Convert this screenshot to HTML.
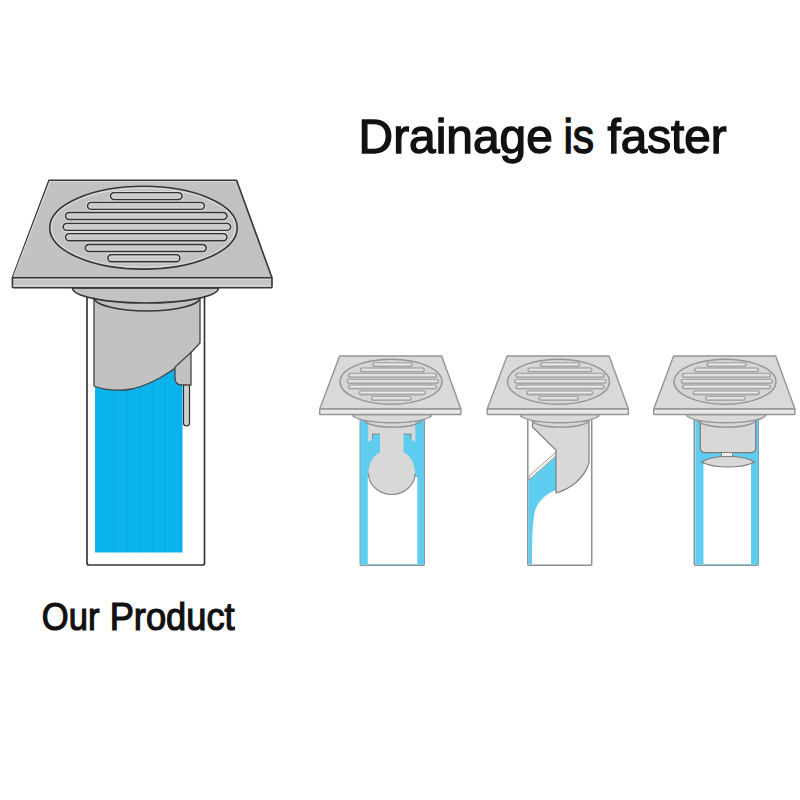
<!DOCTYPE html>
<html><head><meta charset="utf-8">
<style>
html,body{margin:0;padding:0;background:#fff;width:800px;height:800px;overflow:hidden}
svg{display:block}
text{font-family:"Liberation Sans",sans-serif;fill:#111}
</style></head>
<body>
<svg width="800" height="800" viewBox="0 0 800 800">
<text transform="translate(358.57,152.8) scale(0.9768,1)" x="0" y="0" font-size="49" stroke="#111" stroke-width="1.4">Drainage</text>
<text transform="translate(563.39,152.8) scale(0.871,1)" x="0" y="0" font-size="49" stroke="#111" stroke-width="1.4">is</text>
<text transform="translate(607.5,152.8) scale(0.973,1)" x="0" y="0" font-size="49" stroke="#111" stroke-width="1.4">faster</text>
<text transform="translate(41.84,629.5) scale(0.9087,1)" x="0" y="0" font-size="38" stroke="#111" stroke-width="1.2">Our</text>
<text transform="translate(109.63,629.5) scale(0.955,1)" x="0" y="0" font-size="38" stroke="#111" stroke-width="1.2">Product</text>
<g>
<path fill="#fff" stroke="#363636" stroke-width="1.68" d="M87,295 L87,563 Q87,565 89,565 L202.5,565 Q204.5,565 204.5,563 L204.5,296"/>
<rect x="95" y="345" width="87.5" height="207.5" fill="#0ab3ec"/>
<line x1="113.75" y1="345" x2="113.75" y2="552.5" stroke="#0485bd" stroke-opacity="0.22" stroke-width="1.1"/>
<line x1="126.9" y1="345" x2="126.9" y2="552.5" stroke="#0485bd" stroke-opacity="0.22" stroke-width="1.1"/>
<line x1="140" y1="345" x2="140" y2="552.5" stroke="#0485bd" stroke-opacity="0.22" stroke-width="1.1"/>
<line x1="152.5" y1="345" x2="152.5" y2="552.5" stroke="#0485bd" stroke-opacity="0.22" stroke-width="1.1"/>
<line x1="165" y1="345" x2="165" y2="552.5" stroke="#0485bd" stroke-opacity="0.22" stroke-width="1.1"/>
<rect x="183.5" y="370" width="6" height="56" rx="3" fill="#d0d0d0" stroke="#2b2b2b" stroke-width="1.2"/>
<path fill="#c2c2c2" stroke="#474747" stroke-width="1.35" d="M94,297 L94,386 C102,389.5 113,390.5 124,390 C144,389.1 179,370 191,352.5 L200,343 L200,297 Z"/>
<path fill="#c2c2c2" stroke="#474747" stroke-width="1.3" d="M175,367 L175,378 Q175,385 182,385 L191,385 L191,352.5 Z"/>
<path fill="none" stroke="#363636" stroke-width="1.6" d="M94,297.5 A53,13.5 0 0 0 200,297.5"/>
<path fill="#c2c2c2" stroke="#363636" stroke-width="1.6" d="M72.5,288 A73,15 0 0 0 218.5,288 Z"/>
<polygon fill="#c2c2c2" stroke="#363636" stroke-width="1.6" stroke-linejoin="round" points="49,180.3 236.6,180.3 272,277.7 12.4,277.7"/>
<rect fill="#c6c6c6" stroke="#363636" stroke-width="1.6" x="12.4" y="277.7" width="259.6" height="10" rx="1"/>
<ellipse fill="#c2c2c2" stroke="#363636" stroke-width="1.6" cx="143.45" cy="227.7" rx="93.75" ry="41.4"/>
<ellipse fill="none" stroke="#dadada" stroke-width="1.2" cx="143.45" cy="227.7" rx="91.9" ry="39.6"/>
<polyline fill="none" stroke="#dadada" stroke-width="1.1" points="13.6,276.6 49.8,181.5 235.6,181.5"/>
<line stroke="#dadada" stroke-width="1" x1="13.6" y1="279.4" x2="270.8" y2="279.4"/>
<line stroke="#dadada" stroke-width="1" x1="13.6" y1="286" x2="270.8" y2="286"/>
<rect fill="none" stroke="#dadada" stroke-width="3.6" x="110.5" y="192.70" width="71.50" height="6.8" rx="3.4"/>
<rect fill="none" stroke="#dadada" stroke-width="3.6" x="87.6" y="202.50" width="116.80" height="6.8" rx="3.4"/>
<rect fill="none" stroke="#dadada" stroke-width="3.6" x="65.6" y="212.60" width="161.30" height="6.8" rx="3.4"/>
<rect fill="none" stroke="#dadada" stroke-width="3.6" x="63.2" y="223.50" width="167.40" height="6.8" rx="3.4"/>
<rect fill="none" stroke="#dadada" stroke-width="3.6" x="65.6" y="233.80" width="161.30" height="6.8" rx="3.4"/>
<rect fill="none" stroke="#dadada" stroke-width="3.6" x="85.3" y="244.60" width="120.95" height="6.8" rx="3.4"/>
<rect fill="none" stroke="#dadada" stroke-width="3.6" x="107.9" y="254.80" width="72.00" height="6.8" rx="3.4"/>
<rect fill="#c9c9c9" stroke="#363636" stroke-width="1.6" x="110.5" y="192.70" width="71.50" height="6.8" rx="3.4"/>
<rect fill="none" stroke="#dadada" stroke-width="1" x="111.90" y="194.10" width="68.70" height="4" rx="2"/>
<rect fill="#c9c9c9" stroke="#363636" stroke-width="1.6" x="87.6" y="202.50" width="116.80" height="6.8" rx="3.4"/>
<rect fill="none" stroke="#dadada" stroke-width="1" x="89.00" y="203.90" width="114.00" height="4" rx="2"/>
<rect fill="#c9c9c9" stroke="#363636" stroke-width="1.6" x="65.6" y="212.60" width="161.30" height="6.8" rx="3.4"/>
<rect fill="none" stroke="#dadada" stroke-width="1" x="67.00" y="214.00" width="158.50" height="4" rx="2"/>
<rect fill="#c9c9c9" stroke="#363636" stroke-width="1.6" x="63.2" y="223.50" width="167.40" height="6.8" rx="3.4"/>
<rect fill="none" stroke="#dadada" stroke-width="1" x="64.60" y="224.90" width="164.60" height="4" rx="2"/>
<rect fill="#c9c9c9" stroke="#363636" stroke-width="1.6" x="65.6" y="233.80" width="161.30" height="6.8" rx="3.4"/>
<rect fill="none" stroke="#dadada" stroke-width="1" x="67.00" y="235.20" width="158.50" height="4" rx="2"/>
<rect fill="#c9c9c9" stroke="#363636" stroke-width="1.6" x="85.3" y="244.60" width="120.95" height="6.8" rx="3.4"/>
<rect fill="none" stroke="#dadada" stroke-width="1" x="86.70" y="246.00" width="118.15" height="4" rx="2"/>
<rect fill="#c9c9c9" stroke="#363636" stroke-width="1.6" x="107.9" y="254.80" width="72.00" height="6.8" rx="3.4"/>
<rect fill="none" stroke="#dadada" stroke-width="1" x="109.30" y="256.20" width="69.20" height="4" rx="2"/>
</g>
<g transform="translate(391,356) scale(0.544) translate(-143.45,-180.3)"><path fill="#fff" stroke="#8a8f94" stroke-width="2.73" d="M87,295 L87,563 Q87,565 89,565 L202.5,565 Q204.5,565 204.5,563 L204.5,296"/></g>
<rect x="360.3" y="418" width="63.7" height="146.5" fill="#5fcdf0"/>
<rect x="367.8" y="477" width="49.5" height="87" fill="#fff"/>
<path fill="#d8d8d8" d="M368.2,420 L368.2,442 L372.5,439 L372.5,434 L380,434 L380,452.5 C372,456 368.5,464 368.5,473.4 C368.5,485 379,494.5 391.75,494.5 C404.5,494.5 415,485 415,473.4 C415,464 411.5,456 403.5,452.5 L403.5,434 L411,434 L411,439 L415.3,442 L415.3,420 Z"/>
<path fill="none" stroke="#8a8a8a" stroke-width="1.1" d="M372.5,439 L372.5,434 L380,434 M411,439 L411,434 L403.5,434"/>
<path fill="none" stroke="#8a8a8a" stroke-width="1.2" d="M368.5,473.4 C368.5,485 379,494.5 391.75,494.5 C404.5,494.5 415,485 415,473.4"/>
<g transform="translate(391,356) scale(0.544) translate(-143.45,-180.3)"><path fill="none" stroke="#959595" stroke-width="2.6" d="M94,297.5 A53,13.5 0 0 0 200,297.5"/><path fill="#d9d9d9" stroke="#959595" stroke-width="2.6" d="M72.5,288 A73,15 0 0 0 218.5,288 Z"/><polygon fill="#d9d9d9" stroke="#959595" stroke-width="2.6" stroke-linejoin="round" points="49,180.3 236.6,180.3 272,277.7 12.4,277.7"/>
<rect fill="#e8e8e8" stroke="#959595" stroke-width="2.6" x="12.4" y="277.7" width="259.6" height="10" rx="1"/>
<ellipse fill="#d6d6d6" stroke="#959595" stroke-width="2.6" cx="143.45" cy="227.7" rx="93.75" ry="41.4"/>
<rect fill="#d2d2d2" stroke="#a8a8a8" stroke-width="3.0" x="110.5" y="192.70" width="71.50" height="6.8" rx="3.4"/>
<line stroke="#ececec" stroke-width="2.2" stroke-linecap="round" x1="113.50" y1="195.20" x2="179.00" y2="195.20"/>
<rect fill="#d2d2d2" stroke="#a8a8a8" stroke-width="3.0" x="87.6" y="202.50" width="116.80" height="6.8" rx="3.4"/>
<line stroke="#ececec" stroke-width="2.2" stroke-linecap="round" x1="90.60" y1="205.00" x2="201.40" y2="205.00"/>
<rect fill="#d2d2d2" stroke="#a8a8a8" stroke-width="3.0" x="65.6" y="212.60" width="161.30" height="6.8" rx="3.4"/>
<line stroke="#ececec" stroke-width="2.2" stroke-linecap="round" x1="68.60" y1="215.10" x2="223.90" y2="215.10"/>
<rect fill="#d2d2d2" stroke="#a8a8a8" stroke-width="3.0" x="63.2" y="223.50" width="167.40" height="6.8" rx="3.4"/>
<line stroke="#ececec" stroke-width="2.2" stroke-linecap="round" x1="66.20" y1="226.00" x2="227.60" y2="226.00"/>
<rect fill="#d2d2d2" stroke="#a8a8a8" stroke-width="3.0" x="65.6" y="233.80" width="161.30" height="6.8" rx="3.4"/>
<line stroke="#ececec" stroke-width="2.2" stroke-linecap="round" x1="68.60" y1="236.30" x2="223.90" y2="236.30"/>
<rect fill="#d2d2d2" stroke="#a8a8a8" stroke-width="3.0" x="85.3" y="244.60" width="120.95" height="6.8" rx="3.4"/>
<line stroke="#ececec" stroke-width="2.2" stroke-linecap="round" x1="88.30" y1="247.10" x2="203.25" y2="247.10"/>
<rect fill="#d2d2d2" stroke="#a8a8a8" stroke-width="3.0" x="107.9" y="254.80" width="72.00" height="6.8" rx="3.4"/>
<line stroke="#ececec" stroke-width="2.2" stroke-linecap="round" x1="110.90" y1="257.30" x2="176.90" y2="257.30"/></g>
<g transform="translate(558.5,356) scale(0.544) translate(-143.45,-180.3)"><path fill="#fff" stroke="#8a8f94" stroke-width="2.73" d="M87,295 L87,563 Q87,565 89,565 L202.5,565 Q204.5,565 204.5,563 L204.5,296"/></g>
<path fill="#5fcdf0" d="M528.5,479 L556,455 L556,490 C545,494 536.5,503 534.5,513 C532.5,524 532,540 532,564 L528.5,564 Z"/>
<path fill="#f2f2f2" stroke="#a0a0a0" stroke-width="1" d="M529,476 L556,452 L556,456 L529,480 Z"/>
<path fill="#d8d8d8" stroke="#808080" stroke-width="1.2" d="M532.5,421 L532.5,427 L556,450 L556,493 C570,489 584,479 589,463 L589,421 Z"/>
<g transform="translate(558.5,356) scale(0.544) translate(-143.45,-180.3)"><path fill="none" stroke="#959595" stroke-width="2.6" d="M94,297.5 A53,13.5 0 0 0 200,297.5"/><path fill="#d9d9d9" stroke="#959595" stroke-width="2.6" d="M72.5,288 A73,15 0 0 0 218.5,288 Z"/><polygon fill="#d9d9d9" stroke="#959595" stroke-width="2.6" stroke-linejoin="round" points="49,180.3 236.6,180.3 272,277.7 12.4,277.7"/>
<rect fill="#e8e8e8" stroke="#959595" stroke-width="2.6" x="12.4" y="277.7" width="259.6" height="10" rx="1"/>
<ellipse fill="#d6d6d6" stroke="#959595" stroke-width="2.6" cx="143.45" cy="227.7" rx="93.75" ry="41.4"/>
<rect fill="#d2d2d2" stroke="#a8a8a8" stroke-width="3.0" x="110.5" y="192.70" width="71.50" height="6.8" rx="3.4"/>
<line stroke="#ececec" stroke-width="2.2" stroke-linecap="round" x1="113.50" y1="195.20" x2="179.00" y2="195.20"/>
<rect fill="#d2d2d2" stroke="#a8a8a8" stroke-width="3.0" x="87.6" y="202.50" width="116.80" height="6.8" rx="3.4"/>
<line stroke="#ececec" stroke-width="2.2" stroke-linecap="round" x1="90.60" y1="205.00" x2="201.40" y2="205.00"/>
<rect fill="#d2d2d2" stroke="#a8a8a8" stroke-width="3.0" x="65.6" y="212.60" width="161.30" height="6.8" rx="3.4"/>
<line stroke="#ececec" stroke-width="2.2" stroke-linecap="round" x1="68.60" y1="215.10" x2="223.90" y2="215.10"/>
<rect fill="#d2d2d2" stroke="#a8a8a8" stroke-width="3.0" x="63.2" y="223.50" width="167.40" height="6.8" rx="3.4"/>
<line stroke="#ececec" stroke-width="2.2" stroke-linecap="round" x1="66.20" y1="226.00" x2="227.60" y2="226.00"/>
<rect fill="#d2d2d2" stroke="#a8a8a8" stroke-width="3.0" x="65.6" y="233.80" width="161.30" height="6.8" rx="3.4"/>
<line stroke="#ececec" stroke-width="2.2" stroke-linecap="round" x1="68.60" y1="236.30" x2="223.90" y2="236.30"/>
<rect fill="#d2d2d2" stroke="#a8a8a8" stroke-width="3.0" x="85.3" y="244.60" width="120.95" height="6.8" rx="3.4"/>
<line stroke="#ececec" stroke-width="2.2" stroke-linecap="round" x1="88.30" y1="247.10" x2="203.25" y2="247.10"/>
<rect fill="#d2d2d2" stroke="#a8a8a8" stroke-width="3.0" x="107.9" y="254.80" width="72.00" height="6.8" rx="3.4"/>
<line stroke="#ececec" stroke-width="2.2" stroke-linecap="round" x1="110.90" y1="257.30" x2="176.90" y2="257.30"/></g>
<g transform="translate(725,356) scale(0.544) translate(-143.45,-180.3)"><path fill="#fff" stroke="#8a8f94" stroke-width="2.73" d="M87,295 L87,563 Q87,565 89,565 L202.5,565 Q204.5,565 204.5,563 L204.5,296"/></g>
<rect x="695.3" y="418" width="63" height="146.5" fill="#5fcdf0"/>
<rect x="703.5" y="464" width="47.5" height="100" fill="#fff"/>
<path fill="#d8d8d8" stroke="#7c7c7c" stroke-width="1.2" d="M700.3,420 L700.3,448 Q700.3,452.7 705,452.7 L751,452.7 Q755.7,452.7 755.7,448 L755.7,420 Z"/>
<rect x="721.5" y="452.5" width="11" height="4" fill="#eeeeee" stroke="#7c7c7c" stroke-width="0.9"/>
<path fill="#d8d8d8" stroke="#7c7c7c" stroke-width="1.2" d="M701.6,462.2 C708,457 718,456.5 728,456.5 C738,456.5 748,457 754.5,462.2 C746,466 738,467 728,467 C718,467 710,466 701.6,462.2 Z"/>
<g transform="translate(725,356) scale(0.544) translate(-143.45,-180.3)"><path fill="none" stroke="#959595" stroke-width="2.6" d="M94,297.5 A53,13.5 0 0 0 200,297.5"/><path fill="#d9d9d9" stroke="#959595" stroke-width="2.6" d="M72.5,288 A73,15 0 0 0 218.5,288 Z"/><polygon fill="#d9d9d9" stroke="#959595" stroke-width="2.6" stroke-linejoin="round" points="49,180.3 236.6,180.3 272,277.7 12.4,277.7"/>
<rect fill="#e8e8e8" stroke="#959595" stroke-width="2.6" x="12.4" y="277.7" width="259.6" height="10" rx="1"/>
<ellipse fill="#d6d6d6" stroke="#959595" stroke-width="2.6" cx="143.45" cy="227.7" rx="93.75" ry="41.4"/>
<rect fill="#d2d2d2" stroke="#a8a8a8" stroke-width="3.0" x="110.5" y="192.70" width="71.50" height="6.8" rx="3.4"/>
<line stroke="#ececec" stroke-width="2.2" stroke-linecap="round" x1="113.50" y1="195.20" x2="179.00" y2="195.20"/>
<rect fill="#d2d2d2" stroke="#a8a8a8" stroke-width="3.0" x="87.6" y="202.50" width="116.80" height="6.8" rx="3.4"/>
<line stroke="#ececec" stroke-width="2.2" stroke-linecap="round" x1="90.60" y1="205.00" x2="201.40" y2="205.00"/>
<rect fill="#d2d2d2" stroke="#a8a8a8" stroke-width="3.0" x="65.6" y="212.60" width="161.30" height="6.8" rx="3.4"/>
<line stroke="#ececec" stroke-width="2.2" stroke-linecap="round" x1="68.60" y1="215.10" x2="223.90" y2="215.10"/>
<rect fill="#d2d2d2" stroke="#a8a8a8" stroke-width="3.0" x="63.2" y="223.50" width="167.40" height="6.8" rx="3.4"/>
<line stroke="#ececec" stroke-width="2.2" stroke-linecap="round" x1="66.20" y1="226.00" x2="227.60" y2="226.00"/>
<rect fill="#d2d2d2" stroke="#a8a8a8" stroke-width="3.0" x="65.6" y="233.80" width="161.30" height="6.8" rx="3.4"/>
<line stroke="#ececec" stroke-width="2.2" stroke-linecap="round" x1="68.60" y1="236.30" x2="223.90" y2="236.30"/>
<rect fill="#d2d2d2" stroke="#a8a8a8" stroke-width="3.0" x="85.3" y="244.60" width="120.95" height="6.8" rx="3.4"/>
<line stroke="#ececec" stroke-width="2.2" stroke-linecap="round" x1="88.30" y1="247.10" x2="203.25" y2="247.10"/>
<rect fill="#d2d2d2" stroke="#a8a8a8" stroke-width="3.0" x="107.9" y="254.80" width="72.00" height="6.8" rx="3.4"/>
<line stroke="#ececec" stroke-width="2.2" stroke-linecap="round" x1="110.90" y1="257.30" x2="176.90" y2="257.30"/></g>
</svg>
</body></html>
